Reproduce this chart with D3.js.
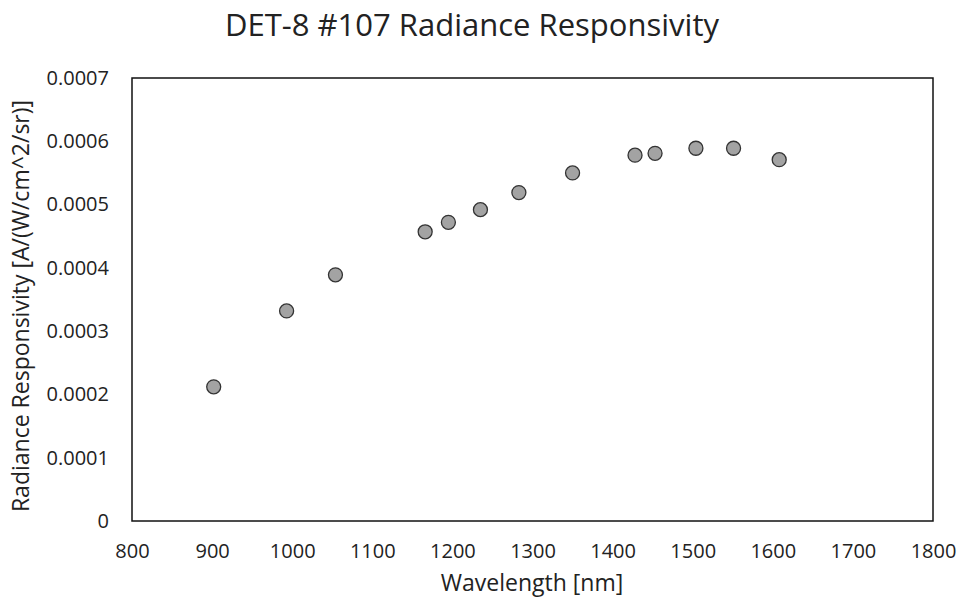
<!DOCTYPE html>
<html><head><meta charset="utf-8">
<script src="https://cdn.jsdelivr.net/npm/d3@7"></script>
<style>body{margin:0;background:#fff}</style>
</head><body>
<script>
const wavelengths = [902, 993, 1054, 1166, 1195, 1235, 1283, 1350, 1428, 1453, 1504, 1551, 1608];
const responsivity = [0.000212, 0.000332, 0.000389, 0.000457, 0.000472, 0.000492, 0.000519, 0.000550, 0.000578, 0.000581, 0.000589, 0.000589, 0.000571];
const xTicks = [800, 900, 1000, 1100, 1200, 1300, 1400, 1500, 1600, 1700, 1800];
const yTicks = [0, 0.0001, 0.0002, 0.0003, 0.0004, 0.0005, 0.0006, 0.0007];
const title = "DET-8 #107 Radiance Responsivity";
const xTitle = "Wavelength [nm]";
const yTitle = "Radiance Responsivity [A/(W/cm^2/sr)]";

const W = 960, H = 605;
const m = {left: 132, right: 27, top: 78, bottom: 84};
const font = "'Open Sans', 'Noto Sans', sans-serif";
const svg = d3.select("body").append("svg").attr("width", W).attr("height", H);
const x = d3.scaleLinear().domain([800, 1800]).range([m.left, W - m.right]);
const y = d3.scaleLinear().domain([0, 0.0007]).range([H - m.bottom, m.top]);

svg.append("text").attr("x", 472).attr("y", 36).attr("text-anchor", "middle")
  .attr("font-family", font).attr("font-size", 31).attr("fill", "#222").text(title);

svg.append("rect").attr("x", m.left).attr("y", m.top)
  .attr("width", W - m.right - m.left).attr("height", H - m.bottom - m.top)
  .attr("fill", "none").attr("stroke", "#111").attr("stroke-width", 1.5);

const xAxis = svg.append("g").attr("transform", `translate(0,${H - m.bottom})`)
  .call(d3.axisBottom(x).tickValues(xTicks).tickSize(0).tickPadding(23).tickFormat(d3.format("d")));
xAxis.select(".domain").remove();
xAxis.selectAll("text").attr("font-family", font).attr("font-size", 20).attr("fill", "#222");

const yAxis = svg.append("g").attr("transform", `translate(${m.left},0)`)
  .call(d3.axisLeft(y).tickValues(yTicks).tickSize(0).tickPadding(23).tickFormat(d => d === 0 ? "0" : d.toFixed(4)));
yAxis.select(".domain").remove();
yAxis.selectAll("text").attr("font-family", font).attr("font-size", 20).attr("fill", "#222");

svg.append("text").attr("x", 532).attr("y", 591).attr("text-anchor", "middle")
  .attr("font-family", font).attr("font-size", 23).attr("fill", "#222").text(xTitle);
svg.append("text").attr("transform", `translate(29,306) rotate(-90)`)
  .attr("text-anchor", "middle").attr("font-family", font).attr("font-size", 23).attr("fill", "#222").text(yTitle);

svg.append("g").selectAll("circle").data(wavelengths).join("circle")
  .attr("cx", d => x(d)).attr("cy", (d, i) => y(responsivity[i])).attr("r", 7)
  .attr("fill", "#a3a3a3").attr("stroke", "#333").attr("stroke-width", 1.3);
</script>
</body></html>
